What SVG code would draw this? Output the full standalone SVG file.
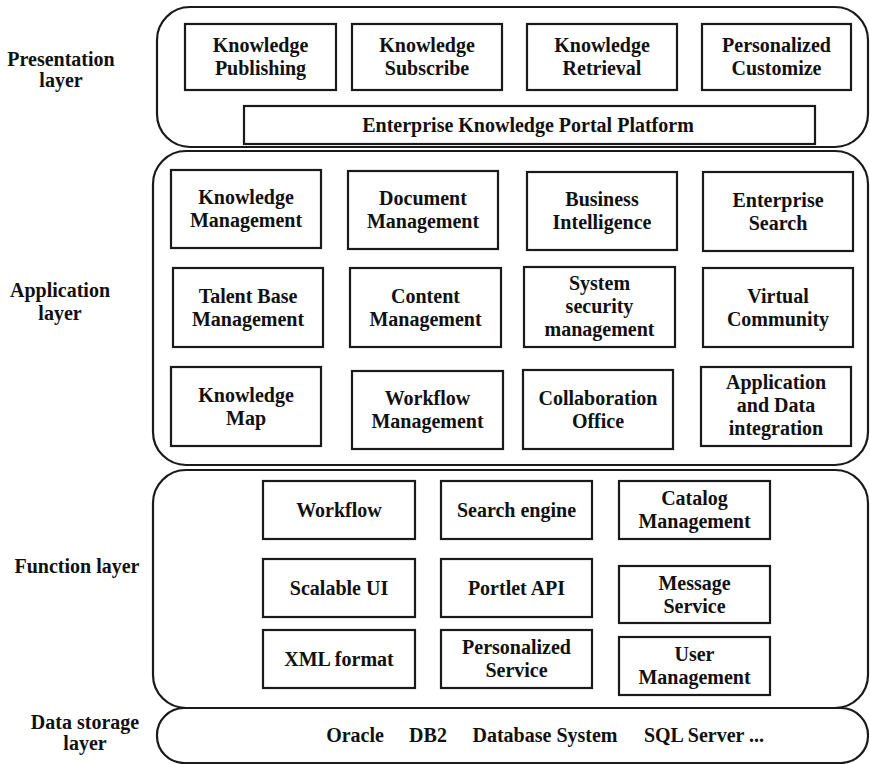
<svg xmlns="http://www.w3.org/2000/svg" width="870" height="764" viewBox="0 0 870 764">
  <style>
    .layer { fill: #fff; stroke: #1a1a1a; stroke-width: 2.2; }
    .box { fill: #fff; stroke: #1a1a1a; stroke-width: 2.2; }
    text { font-family: "Liberation Serif", "Times New Roman", serif; font-weight: bold; font-size: 20px; fill: #111; text-anchor: middle; }
  </style>
  <rect width="870" height="764" fill="#fff"/>

  <!-- side captions -->
  <g id="captions">
    <text x="61" y="66">Presentation</text>
    <text x="61" y="87">layer</text>
    <text x="60" y="297">Application</text>
    <text x="60" y="320">layer</text>
    <text x="77" y="573">Function layer</text>
    <text x="85" y="729">Data storage</text>
    <text x="85" y="750">layer</text>
  </g>

  <!-- layer frames -->
  <g id="presentation-layer"><rect class="layer" x="157" y="7" width="711" height="140" rx="33"/></g>
  <g id="application-layer"><rect class="layer" x="153" y="151" width="715" height="314" rx="33"/></g>
  <g id="function-layer"><rect class="layer" x="153" y="470" width="715" height="238" rx="33"/></g>
  <g id="data-storage-layer">
    <rect class="layer" x="157" y="708" width="711" height="55" rx="27"/>
    <text x="355" y="742">Oracle</text>
    <text x="428" y="742">DB2</text>
    <text x="545" y="742">Database System</text>
    <text x="704" y="742">SQL Server ...</text>
  </g>

  <!-- presentation layer -->
  <g id="knowledge-publishing"><rect class="box" x="185" y="24" width="151" height="66"/><text x="260.5" y="52">Knowledge</text><text x="260.5" y="75">Publishing</text></g>
  <g id="knowledge-subscribe"><rect class="box" x="352" y="24" width="150" height="66"/><text x="427" y="52">Knowledge</text><text x="427" y="75">Subscribe</text></g>
  <g id="knowledge-retrieval"><rect class="box" x="527" y="24" width="150" height="66"/><text x="602" y="52">Knowledge</text><text x="602" y="75">Retrieval</text></g>
  <g id="personalized-customize"><rect class="box" x="702" y="24" width="149" height="66"/><text x="776.5" y="52">Personalized</text><text x="776.5" y="75">Customize</text></g>
  <g id="portal-platform"><rect class="box" x="244" y="106" width="571" height="38"/><text x="528" y="132">Enterprise Knowledge Portal Platform</text></g>

  <!-- application layer -->
  <g id="knowledge-management"><rect class="box" x="171" y="170" width="150" height="78"/><text x="246" y="204">Knowledge</text><text x="246" y="227">Management</text></g>
  <g id="document-management"><rect class="box" x="348" y="171" width="150" height="78"/><text x="423" y="205">Document</text><text x="423" y="228">Management</text></g>
  <g id="business-intelligence"><rect class="box" x="527" y="172" width="150" height="78"/><text x="602" y="206">Business</text><text x="602" y="229">Intelligence</text></g>
  <g id="enterprise-search"><rect class="box" x="703" y="172" width="150" height="79"/><text x="778" y="206.5">Enterprise</text><text x="778" y="229.5">Search</text></g>

  <g id="talent-base-management"><rect class="box" x="173" y="268" width="150" height="79"/><text x="248" y="302.5">Talent Base</text><text x="248" y="325.5">Management</text></g>
  <g id="content-management"><rect class="box" x="350" y="268" width="151" height="79"/><text x="425.5" y="302.5">Content</text><text x="425.5" y="325.5">Management</text></g>
  <g id="system-security-management"><rect class="box" x="524" y="267" width="151" height="80"/><text x="599.5" y="290">System</text><text x="599.5" y="313">security</text><text x="599.5" y="336">management</text></g>
  <g id="virtual-community"><rect class="box" x="703" y="268" width="150" height="79"/><text x="778" y="302.5">Virtual</text><text x="778" y="325.5">Community</text></g>

  <g id="knowledge-map"><rect class="box" x="171" y="367" width="150" height="79"/><text x="246" y="401.5">Knowledge</text><text x="246" y="424.5">Map</text></g>
  <g id="workflow-management"><rect class="box" x="352" y="371" width="151" height="78"/><text x="427.5" y="405">Workflow</text><text x="427.5" y="428">Management</text></g>
  <g id="collaboration-office"><rect class="box" x="523" y="370" width="150" height="79"/><text x="598" y="404.5">Collaboration</text><text x="598" y="427.5">Office</text></g>
  <g id="application-data-integration"><rect class="box" x="701" y="367" width="150" height="79"/><text x="776" y="389">Application</text><text x="776" y="412">and Data</text><text x="776" y="435">integration</text></g>

  <!-- function layer -->
  <g id="workflow"><rect class="box" x="263" y="481" width="152" height="58"/><text x="339" y="516.5">Workflow</text></g>
  <g id="search-engine"><rect class="box" x="441" y="481" width="151" height="58"/><text x="516.5" y="516.5">Search engine</text></g>
  <g id="catalog-management"><rect class="box" x="619" y="481" width="151" height="58"/><text x="694.5" y="505">Catalog</text><text x="694.5" y="528">Management</text></g>
  <g id="scalable-ui"><rect class="box" x="263" y="559" width="152" height="58"/><text x="339" y="594.5">Scalable UI</text></g>
  <g id="portlet-api"><rect class="box" x="441" y="559" width="151" height="58"/><text x="516.5" y="594.5">Portlet API</text></g>
  <g id="message-service"><rect class="box" x="619" y="566" width="151" height="57"/><text x="694.5" y="589.5">Message</text><text x="694.5" y="612.5">Service</text></g>
  <g id="xml-format"><rect class="box" x="263" y="630" width="152" height="58"/><text x="339" y="665.5">XML format</text></g>
  <g id="personalized-service"><rect class="box" x="441" y="630" width="151" height="58"/><text x="516.5" y="654">Personalized</text><text x="516.5" y="677">Service</text></g>
  <g id="user-management"><rect class="box" x="619" y="637" width="151" height="58"/><text x="694.5" y="661">User</text><text x="694.5" y="684">Management</text></g>
</svg>
